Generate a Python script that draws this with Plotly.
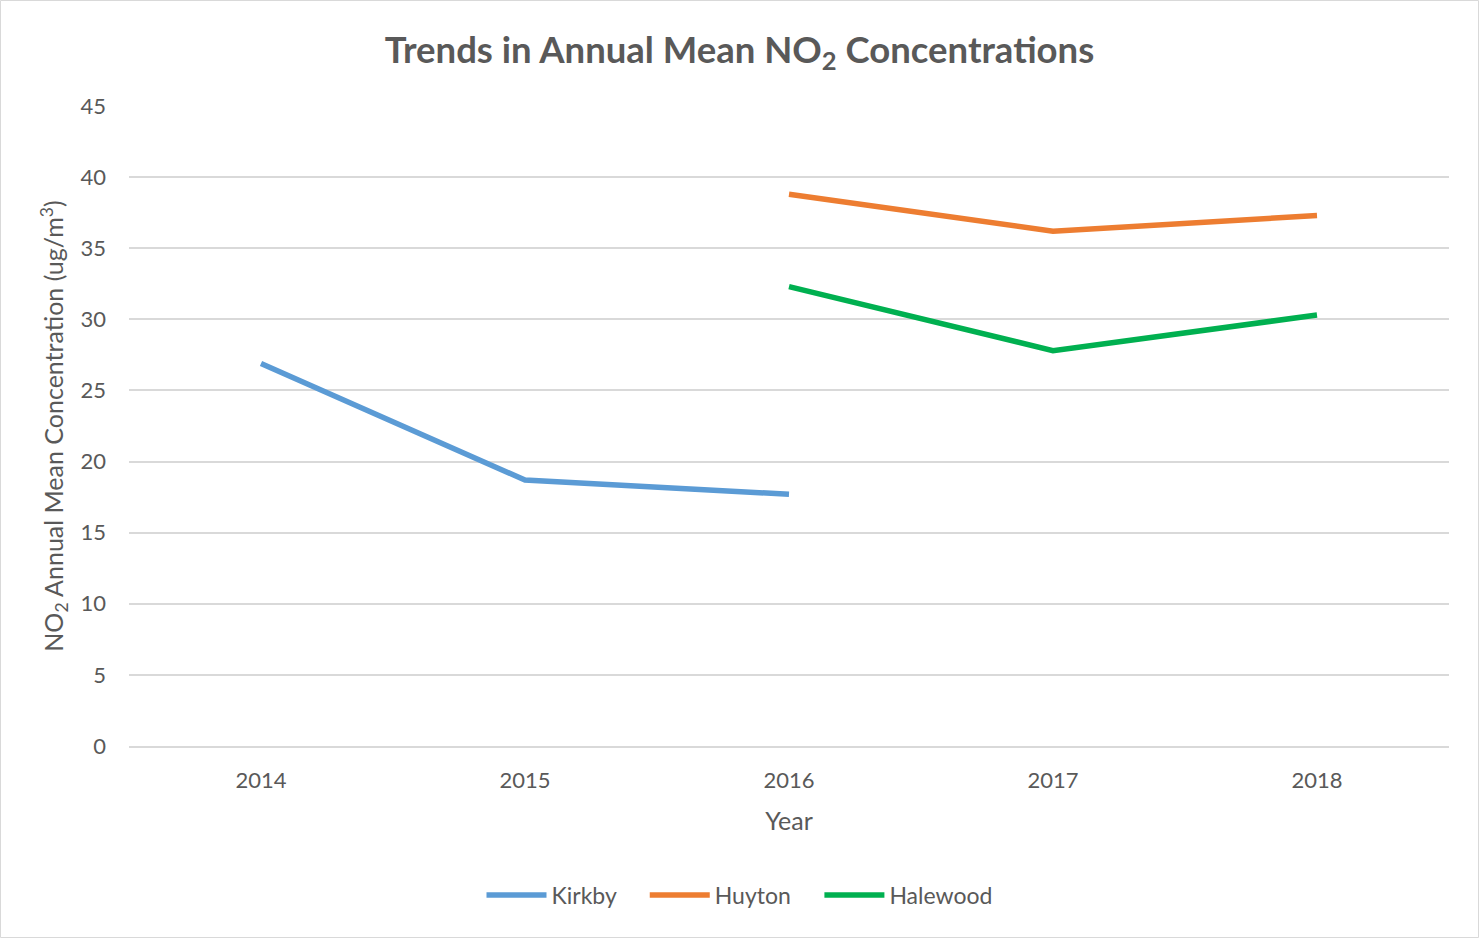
import plotly.graph_objects as go

years = ["2014", "2015", "2016", "2017", "2018"]
kirkby = [26.9, 18.7, 17.7, None, None]
huyton = [None, None, 38.8, 36.2, 37.3]
halewood = [None, None, 32.3, 27.8, 30.3]

W, H = 1479, 938
ml, mr, mt, mb = 129, 30, 106, 192
pw, ph = W - ml - mr, H - mt - mb

font_family = "Lato, 'Open Sans', sans-serif"
grey = "#595959"
pad = "\u00a0" * 4

fig = go.Figure()
for name, label, vals, col in [("Kirkby", "Kirkby" + pad, kirkby, "#5B9BD5"),
                               ("Huyton", "Huyton" + pad, huyton, "#ED7D31"),
                               ("Halewood", "Halewood", halewood, "#00B050")]:
    fig.add_trace(go.Scatter(x=years, y=vals, name=label, mode="lines",
                             line=dict(color=col, width=5.5),
                             connectgaps=False))

fig.update_layout(
    width=W, height=H,
    margin=dict(l=ml, r=mr, t=mt, b=mb),
    paper_bgcolor="white", plot_bgcolor="white",
    font=dict(family=font_family, color=grey, size=22),
    title=dict(text="<b>Trends in Annual Mean NO<sub>2</sub> Concentrations</b>",
               x=0.5, xanchor="center", y=1 - 50 / H, yanchor="middle",
               font=dict(size=36.5, color=grey)),
    xaxis=dict(type="category", range=[-0.5, 4.5], showgrid=False,
               showline=True, linecolor="#d9d9d9", linewidth=1.5,
               ticks="", ticklabelstandoff=14, tickfont=dict(size=22, color=grey),
               title=dict(text="Year", font=dict(size=25, color=grey), standoff=20)),
    yaxis=dict(range=[0, 45], dtick=5, showgrid=True, gridcolor="#d9d9d9",
               gridwidth=1.5, zeroline=False, showline=False, ticks="",
               ticklabelstandoff=22,
               tickfont=dict(size=22, color=grey),
               title=dict(text="NO<sub>2</sub> Annual Mean Concentration (ug/m<sup>3</sup>)",
                          font=dict(size=25, color=grey), standoff=9)),
    legend=dict(orientation="h", x=(W / 2 - ml) / pw, xanchor="center",
                y=-(895 - 746) / ph, yanchor="middle", itemwidth=60,
                font=dict(size=23, color=grey)),
    shapes=[dict(type="rect", xref="paper", yref="paper",
                 x0=(0.5 - ml) / pw, x1=(W - 0.5 - ml) / pw,
                 y0=-(H - 0.5 - mt - ph) / ph, y1=1 + (mt - 0.5) / ph,
                 line=dict(color="#d9d9d9", width=1), layer="below")],
)

fig.write_html("out.html")
